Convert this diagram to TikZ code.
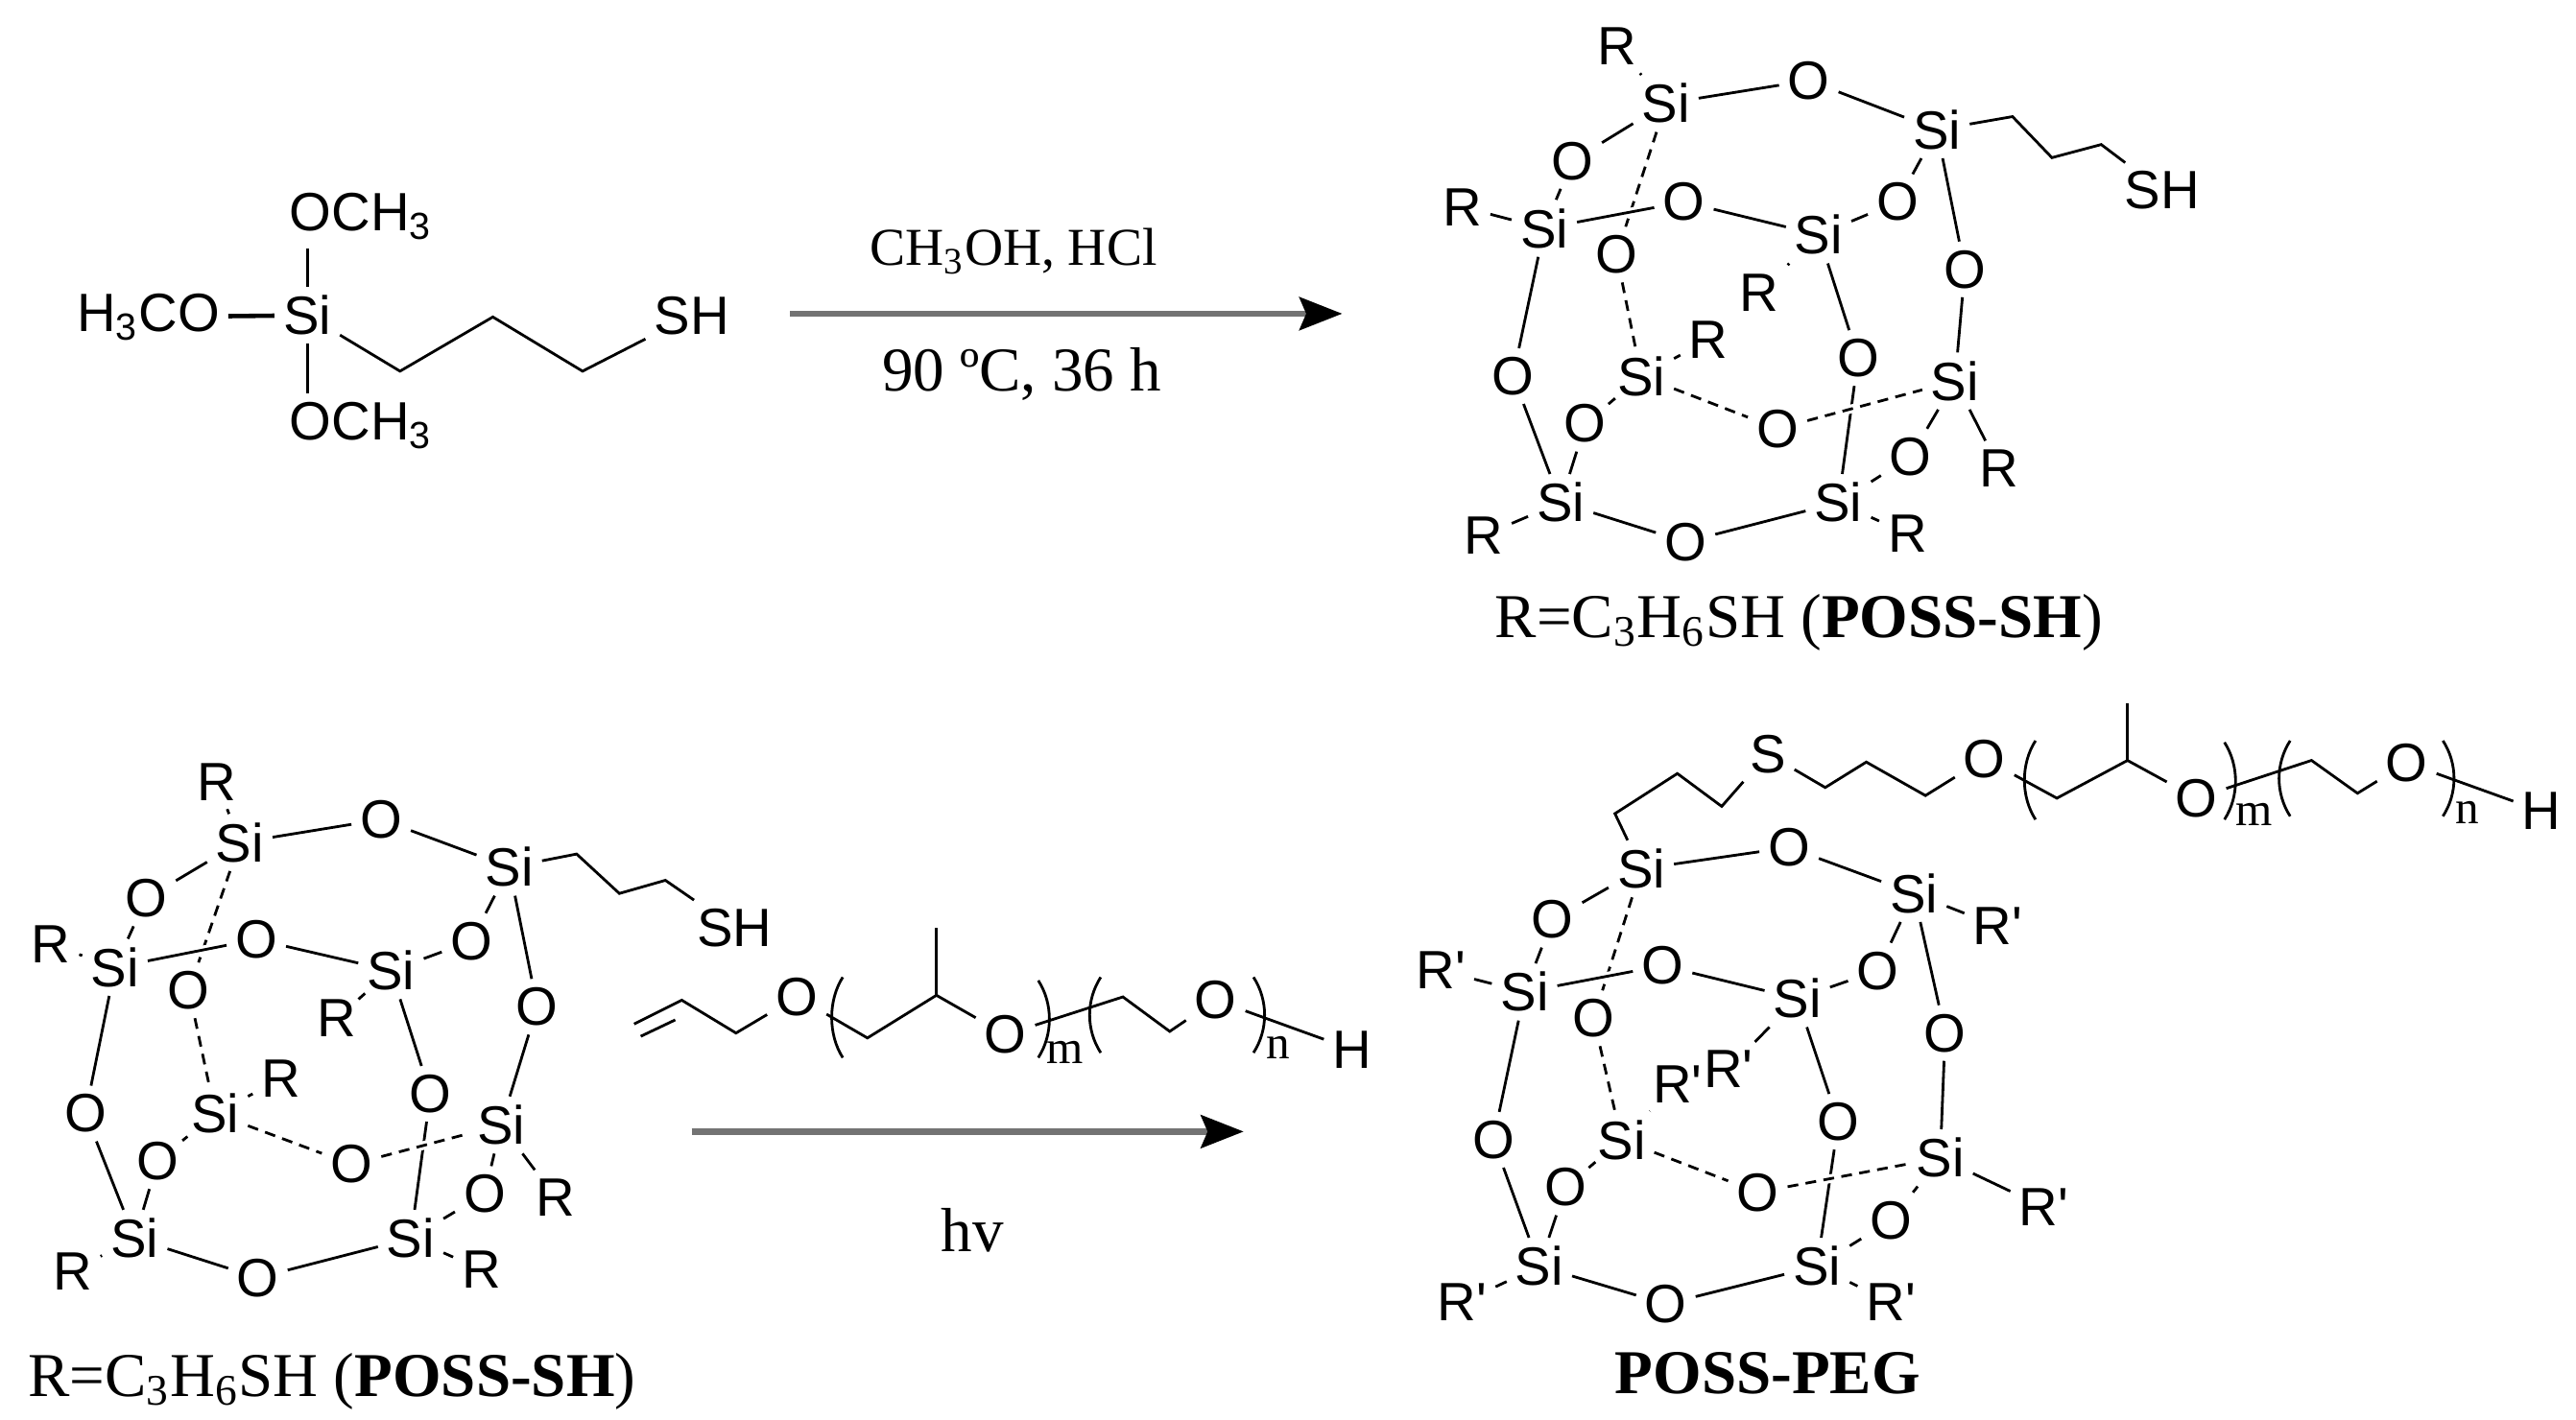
\documentclass[tikz,border=0pt]{standalone}
\usepackage{fontspec}
\setmainfont{Liberation Serif}
\setsansfont{Liberation Sans}
\usetikzlibrary{arrows.meta}
\tikzstyle{atom} = [font=\sffamily\fontsize{16}{18}\selectfont, inner sep=2.6pt, outer sep=0pt]
\tikzstyle{bond} = [line width=0.8pt, line join=miter]
\tikzstyle{hidden} = [bond, dash pattern=on 3.2pt off 2.2pt]
\tikzstyle{halo} = [preaction={draw=white, solid, line width=2.6pt}]
\tikzstyle{caption} = [font=\fontsize{18.5}{22}\selectfont, inner sep=0pt]
\tikzstyle{index} = [font=\fontsize{14}{16}\selectfont, inner sep=0pt]
\tikzstyle{rxn} = [line width=1.9pt, draw=black!55, -{Stealth[black, length=26*0.1712mm, width=20*0.1712mm, inset=0.7mm]}]
\newcommand{\cagebonds}[1]{
    \draw[hidden] (#1a) -- (#1Oae);
    \draw[bond, halo] (#1c) -- (#1Ocd);
    \foreach \p/\q in {a/Oab,Oab/b,a/Oac,Oac/c,b/Obd,Obd/d,d/Ocd,b/Obf,Obf/f,c/Ocg,Ocg/g,g/Ogh,Ogh/h,f/Ofh,Ofh/h,g/Oeg,d/Odh,Odh/h}
        \draw[bond] (#1\p) -- (#1\q);
    \foreach \p/\q in {Oae/e,e/Oeg,e/Oef,Oef/f}
        \draw[hidden, halo] (#1\p) -- (#1\q);
}
\newcommand{\polybracket}[4]{
    \draw[bond] (#1,#2) .. controls +(#4,14) and +(#4,-14) .. (#1,#3);
}
\begin{document}
\begin{tikzpicture}[x=0.1712mm, y=-0.1712mm]
\useasboundingbox (0,0) rectangle (1568,864.5);

\node[atom] (si) at (187,192) {Si};
\node[atom, anchor=west] (ome1) at (171,132) {OCH\textsubscript{3}};
\node[atom, anchor=west] (ome2) at (171,259) {OCH\textsubscript{3}};
\node[atom, anchor=east] (ome3) at (139,193) {H\textsubscript{3}CO};
\node[atom] (sh) at (421,192) {SH};
\coordinate (p1) at (243.5,226);
\coordinate (p2) at (300,193);
\coordinate (p3) at (354.6,226);
\draw[bond] (si) -- (si |- ome1.south);
\draw[bond] (si) -- (si |- ome2.north);
\draw[bond, line width=1.3pt] (ome3) -- (si);
\draw[bond] (si) -- (p1) -- (p2) -- (p3) -- (sh);

\coordinate (arrowa) at (481,191);
\coordinate (arrowb) at (817,191);
\draw[rxn] (arrowa) -- (arrowb);
\node[caption, font=\fontsize{15.8}{20}\selectfont] (cond1) at (617,153) {CH\textsubscript{3}OH, HCl};
\node[caption] (cond2) at (622,228) {90 ºC, 36 h};

\foreach \n/\x/\y/\t in {a/1014/63/Si,b/1179/79/Si,c/940/139/Si,d/1107/143/Si,e/999/229/Si,f/1190/232/Si,g/950/306/Si,h/1119/306/Si,
    Oab/1101/49/O,Oac/957/98/O,Ocd/1025/123/O,Obd/1155/123/O,Oae/984/155/O,Obf/1196/164/O,Ocg/921/229/O,Odh/1131/218/O,Oeg/965/258/O,Oef/1082/261/O,Ofh/1163/278/O,Ogh/1026/330/O,
    Ra/984/28/R,Rc/890/126/R,Rd/1071/178/R,Re/1040/207/R,Rf/1217/285/R,Rg/903/326/R,Rh/1161/325/R}
    \node[atom] (A\n) at (\x,\y) {\t};
\cagebonds{A}
\foreach \p in {a,c,d,e,f,g,h}
    \draw[bond] (A\p) -- (AR\p);
\node[atom] (Ash) at (1316,116) {SH};
\coordinate (Aq1) at (1225,71);
\coordinate (Aq2) at (1249,96);
\coordinate (Aq3) at (1279,88);
\draw[bond] (Ab) -- (Aq1) -- (Aq2) -- (Aq3) -- (Ash);
\node[caption] (Aname) at (1095,379) {R=C\textsubscript{3}H\textsubscript{6}SH (\textbf{POSS-SH})};

\foreach \n/\x/\y/\t in {a/146/513/Si,b/310/528/Si,c/70/589/Si,d/238/591/Si,e/131/678/Si,f/305/685/Si,g/82/754/Si,h/250/754/Si,
    Oab/232/499/O,Oac/89/547/O,Ocd/156/572/O,Obd/287/573/O,Oae/115/603/O,Obf/327/613/O,Ocg/52/678/O,Odh/262/666/O,Oeg/96/707/O,Oef/214/709/O,Ofh/295/727/O,Ogh/157/778/O,
    Ra/132/476/R,Rc/31/575/R,Rd/205/620/R,Re/171/657/R,Rf/338/729/R,Rg/44/774/R,Rh/293/773/R}
    \node[atom] (B\n) at (\x,\y) {\t};
\cagebonds{B}
\foreach \p in {a,c,d,e,f,g,h}
    \draw[bond] (B\p) -- (BR\p);
\node[atom] (Bsh) at (447,565) {SH};
\coordinate (Bq1) at (351,520);
\coordinate (Bq2) at (377,544);
\coordinate (Bq3) at (405,536);
\draw[bond] (Bb) -- (Bq1) -- (Bq2) -- (Bq3) -- (Bsh);
\node[caption] (Bname) at (202,841) {R=C\textsubscript{3}H\textsubscript{6}SH (\textbf{POSS-SH})};

\coordinate (va) at (386,623.5);
\coordinate (vb) at (415,609);
\coordinate (vc) at (390,631);
\coordinate (vd) at (411,621);
\coordinate (v1) at (448,629);
\coordinate (v2) at (528,632);
\coordinate (v3) at (570,606);
\coordinate (v4) at (570,565);
\coordinate (v5) at (683.5,607);
\coordinate (v6) at (712,628);
\node[atom] (vo1) at (485,607) {O};
\node[atom] (vo2) at (612,630) {O};
\node[atom] (vo3) at (740,609) {O};
\node[atom] (vh) at (823,639) {H};
\node[index] (vm) at (648,641) {m};
\node[index] (vn) at (778,638) {n};
\draw[bond] (va) -- (vb) -- (v1) -- (vo1);
\draw[bond] (vc) -- (vd);
\draw[bond] (vo1) -- (v2) -- (v3) -- (vo2);
\draw[bond] (v3) -- (v4);
\draw[bond] (vo2) -- (v5) -- (v6) -- (vo3);
\draw[bond] (vo3) -- (vh);
\polybracket{513}{595}{644}{-9}
\polybracket{632}{597}{644}{9}
\polybracket{670}{595}{641}{-9}
\polybracket{763}{595}{641}{9}

\coordinate (arrowc) at (421,689);
\coordinate (arrowd) at (757,689);
\draw[rxn] (arrowc) -- (arrowd);
\node[caption] (cond3) at (592,749) {hv};

\foreach \n/\x/\y/\t in {a/999/529/Si,b/1165/544/Si,c/928/604/Si,d/1094/608/Si,e/987/694/Si,f/1181/705/Si,g/937/771/Si,h/1106/771/Si,
    Oab/1089/516/O,Oac/945/560/O,Ocd/1012/588/O,Obd/1143/591/O,Oae/970/620/O,Obf/1184/629/O,Ocg/909/694/O,Odh/1119/683/O,Oeg/953/723/O,Oef/1070/726/O,Ofh/1151/743/O,Ogh/1014/794/O,
    Rb/1216/564/R\textquotesingle,Rc/877/591/R\textquotesingle,Rd/1052/651/R\textquotesingle,Re/1021/660/R\textquotesingle,Rf/1244/735/R\textquotesingle,Rg/890/793/R\textquotesingle,Rh/1151/793/R\textquotesingle}
    \node[atom] (C\n) at (\x,\y) {\t};
\cagebonds{C}
\foreach \p in {b,c,d,e,f,g,h}
    \draw[bond] (C\p) -- (CR\p);

\coordinate (w1) at (983,495.4);
\coordinate (w2) at (1021,471);
\coordinate (w3) at (1048,491);
\coordinate (w4) at (1111,479.5);
\coordinate (w5) at (1136,464);
\coordinate (w6) at (1172,484.4);
\coordinate (w7) at (1252,486);
\coordinate (w8) at (1295,463);
\coordinate (w9) at (1295,428);
\coordinate (w10) at (1407,463);
\coordinate (w11) at (1435,483);
\node[atom] (ws) at (1076,459) {S};
\node[atom] (wo1) at (1208,462) {O};
\node[atom] (wo2) at (1337,486) {O};
\node[atom] (wo3) at (1465,464.5) {O};
\node[atom] (wh) at (1547,494) {H};
\node[index] (wm) at (1372,496) {m};
\node[index] (wn) at (1502,494.6) {n};
\draw[bond] (Ca) -- (w1) -- (w2) -- (w3) -- (ws);
\draw[bond] (ws) -- (w4) -- (w5) -- (w6) -- (wo1);
\draw[bond] (wo1) -- (w7) -- (w8) -- (wo2);
\draw[bond] (w8) -- (w9);
\draw[bond] (wo2) -- (w10) -- (w11) -- (wo3);
\draw[bond] (wo3) -- (wh);
\polybracket{1239}{451}{499}{-9}
\polybracket{1354}{452}{499}{9}
\polybracket{1394}{451}{497}{-9}
\polybracket{1487}{451}{497}{9}
\node[caption, font=\fontsize{18.5}{22}\selectfont\bfseries] (Cname) at (1076,836) {POSS-PEG};
\end{tikzpicture}
\end{document}
